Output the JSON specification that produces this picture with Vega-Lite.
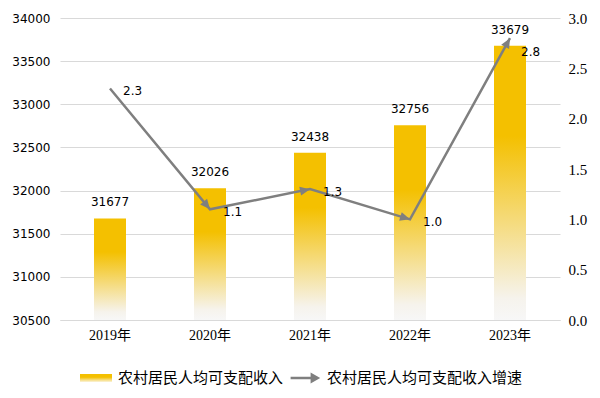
{
  "$schema": "https://vega.github.io/schema/vega-lite/v6.json",
  "width": 500,
  "height": 302,
  "autosize": {"type": "none"},
  "padding": {"left": 60, "top": 18, "right": 40, "bottom": 78},
  "background": "white",
  "config": {"view": {"stroke": null}},
  "data": {"values": [
    {"year": "2019年", "income": 31677, "growth": 2.3},
    {"year": "2020年", "income": 32026, "growth": 1.1},
    {"year": "2021年", "income": 32438, "growth": 1.3},
    {"year": "2022年", "income": 32756, "growth": 1.0},
    {"year": "2023年", "income": 33679, "growth": 2.8}
  ]},
  "encoding": {
    "x": {"field": "year", "type": "nominal", "sort": null,
      "scale": {"paddingInner": 0.68, "paddingOuter": 0.34},
      "axis": {"title": null, "labelAngle": 0, "ticks": false, "domain": true, "domainColor": "#D9D9D9",
        "labelFont": "Liberation Serif, Noto Sans CJK SC", "labelFontSize": 14, "labelColor": "#000000", "labelPadding": 8}}
  },
  "layer": [
    {
      "layer": [
        {
          "mark": {"type": "bar", "fill": {"gradient": "linear", "x1": 0, "y1": 0, "x2": 0, "y2": 1,
            "stops": [{"offset": 0, "color": "#F4C000"}, {"offset": 0.33, "color": "#F4C000"}, {"offset": 0.92, "color": "#F6F3EC"}, {"offset": 1, "color": "#F7F7F7"}]}},
          "encoding": {
            "y": {"field": "income", "type": "quantitative",
              "scale": {"domain": [30500, 34000], "zero": false, "nice": false},
              "axis": {"title": null, "values": [30500, 31000, 31500, 32000, 32500, 33000, 33500, 34000], "format": "d",
                "grid": true, "gridColor": "#D9D9D9", "domain": false, "ticks": false, "labelPadding": 10,
                "labelFont": "DejaVu Sans", "labelFontSize": 12, "labelColor": "#000000"}},
            "y2": {"datum": 30500}
          }
        },
        {
          "mark": {"type": "text", "baseline": "bottom", "dy": -9, "font": "DejaVu Sans", "fontSize": 12, "color": "#000000"},
          "encoding": {
            "y": {"field": "income", "type": "quantitative"},
            "text": {"field": "income", "type": "quantitative", "format": "d"}
          }
        }
      ]
    },
    {
      "layer": [
        {
          "mark": {"type": "line", "strokeWidth": 2.5},
          "encoding": {
            "y": {"field": "growth", "type": "quantitative",
              "scale": {"domain": [0, 3], "nice": false},
              "axis": {"orient": "right", "title": null, "values": [0, 0.5, 1, 1.5, 2, 2.5, 3], "format": ".1f",
                "grid": false, "domain": false, "ticks": false, "labelPadding": 8,
                "labelFont": "Liberation Serif", "labelFontSize": 15, "labelColor": "#000000"}},
            "color": {"datum": "农村居民人均可支配收入增速", "type": "nominal",
              "scale": {"domain": ["农村居民人均可支配收入", "农村居民人均可支配收入增速"], "range": ["#F4C000", "#7F7F7F"]},
              "legend": {"title": null, "orient": "none", "legendX": 20, "legendY": 344, "direction": "horizontal",
                "labelFont": "Noto Sans CJK SC", "labelFontSize": 15, "labelColor": "#000000", "labelOffset": 6, "labelLimit": 0,
                "columnPadding": 5, "symbolSize": 1024,
                "encode": {"symbols": {"update": {
                  "shape": [
                    {"test": "datum.value === '农村居民人均可支配收入'", "value": "M-1,-0.25L1,-0.25L1,0.25L-1,0.25Z"},
                    {"value": "M-0.9,-0.08L0.35,-0.08L0.35,-0.35L0.95,0L0.35,0.35L0.35,0.08L-0.9,0.08Z"}
                  ],
                  "fill": [
                    {"test": "datum.value === '农村居民人均可支配收入'", "value": {"gradient": "linear", "x1": 0, "y1": 0, "x2": 0, "y2": 1,
                      "stops": [{"offset": 0, "color": "#F4C000"}, {"offset": 0.4, "color": "#F4C000"}, {"offset": 1, "color": "#FAF3DC"}]}},
                    {"value": "#7F7F7F"}
                  ],
                  "fillOpacity": {"value": 1},
                  "stroke": {"value": "transparent"},
                  "strokeWidth": {"value": 0},
                  "size": {"value": 1024}
                }}}}}
          }
        },
        {
          "transform": [
            {"window": [{"op": "lag", "field": "growth", "as": "prev"}]},
            {"filter": "datum.prev != null"},
            {"calculate": "atan2((datum.prev - datum.growth) * 302 / 3, 100) * 180 / PI", "as": "angle"}
          ],
          "mark": {"type": "point", "shape": "M0,0L-1,-0.45L-1,0.45Z", "filled": true, "fill": "#7F7F7F", "opacity": 1, "size": 400},
          "encoding": {
            "y": {"field": "growth", "type": "quantitative"},
            "angle": {"field": "angle", "type": "quantitative", "scale": null}
          }
        },
        {
          "transform": [{"filter": "datum.year !== '2023年'"}],
          "mark": {"type": "text", "align": "left", "baseline": "middle", "dx": 13, "dy": 3, "font": "DejaVu Sans", "fontSize": 12, "color": "#000000"},
          "encoding": {
            "y": {"field": "growth", "type": "quantitative"},
            "text": {"field": "growth", "type": "quantitative", "format": ".1f"}
          }
        },
        {
          "transform": [{"filter": "datum.year === '2023年'"}],
          "mark": {"type": "text", "align": "left", "baseline": "middle", "dx": 11, "dy": 14, "font": "DejaVu Sans", "fontSize": 12, "color": "#000000"},
          "encoding": {
            "y": {"field": "growth", "type": "quantitative"},
            "text": {"field": "growth", "type": "quantitative", "format": ".1f"}
          }
        }
      ]
    }
  ],
  "resolve": {"scale": {"y": "independent"}}
}
